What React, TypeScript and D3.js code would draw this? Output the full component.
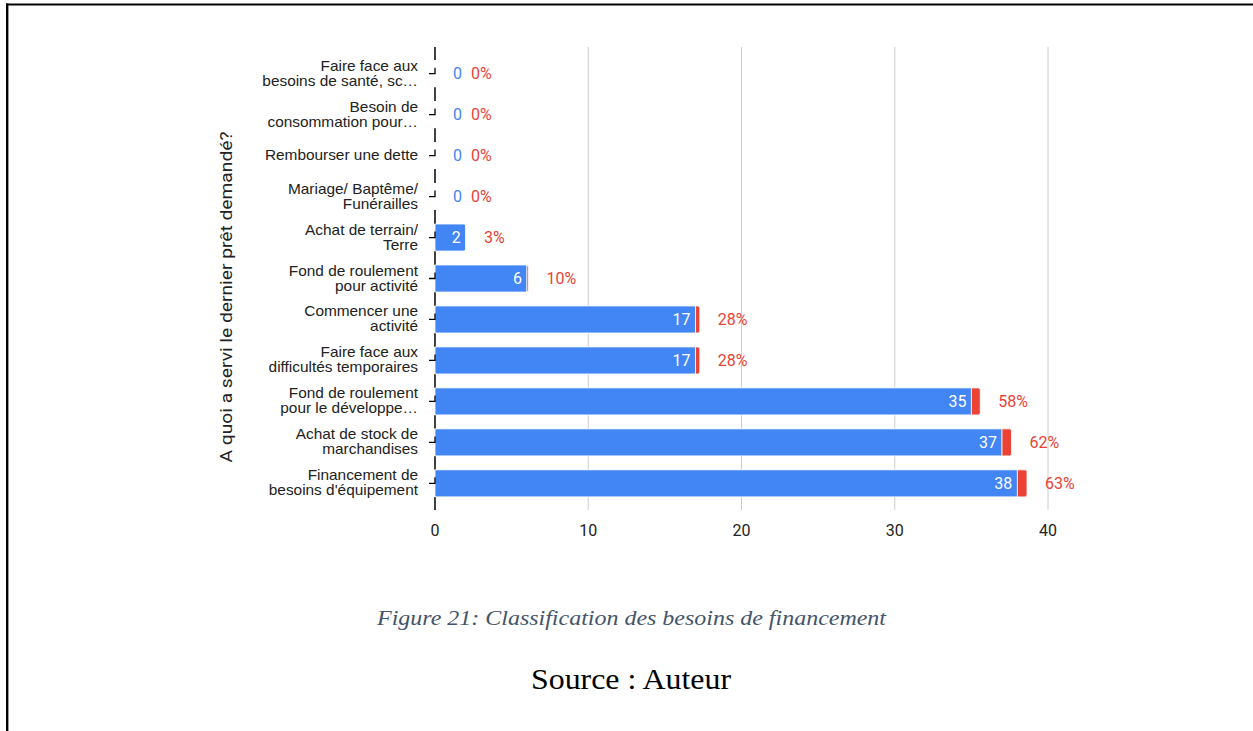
import React from "react";
import * as d3 from "d3";

const categories: string[][] = [
  ["Faire face aux", "besoins de santé, sc…"],
  ["Besoin de", "consommation pour…"],
  ["Rembourser une dette"],
  ["Mariage/ Baptême/", "Funérailles"],
  ["Achat de terrain/", "Terre"],
  ["Fond de roulement", "pour activité"],
  ["Commencer une", "activité"],
  ["Faire face aux", "difficultés temporaires"],
  ["Fond de roulement", "pour le développe…"],
  ["Achat de stock de", "marchandises"],
  ["Financement de", "besoins d'équipement"],
];
const counts: number[] = [0, 0, 0, 0, 2, 6, 17, 17, 35, 37, 38];
const percents: number[] = [0, 0, 0, 0, 3, 10, 28, 28, 58, 62, 63];
const xTicks: number[] = [0, 10, 20, 30, 40];
const yTitle = "A quoi a servi le dernier prêt demandé?";
const caption = "Figure 21: Classification des besoins de financement";
const source = "Source : Auteur";

const BLUE = "#4285F4";
const RED = "#EA4335";
const SANS = "Roboto, 'Liberation Sans', Arial, sans-serif";
const LABEL_FONT = "'Liberation Sans', Arial, sans-serif";
const SERIF = "'Liberation Serif', 'Times New Roman', serif";

export default function App() {
  const W = 1253;
  const H = 731;
  const x = d3.scaleLinear().domain([0, 40]).range([435, 1048]);
  const idx = categories.map((_, i) => String(i));
  const y = d3
    .scaleBand<string>()
    .domain(idx)
    .range([47, 510])
    .paddingInner(0.34)
    .paddingOuter(0.32);
  const bw = y.bandwidth();
  const x0 = x(0);

  const axisSegs: [number, number][] = [];
  let prev = 47;
  idx.forEach((k) => {
    const top = y(k)!;
    axisSegs.push([prev, top]);
    prev = top + bw;
  });
  axisSegs.push([prev, 510]);

  return (
    <svg
      width={W}
      height={H}
      style={{ position: "absolute", left: 0, top: 0, background: "#fff" }}
    >
      <line x1={6} x2={W} y1={4.5} y2={4.5} stroke="#000" strokeWidth={2.2} />
      <line x1={7.2} x2={7.2} y1={3.5} y2={H} stroke="#000" strokeWidth={2.4} />

      {xTicks
        .filter((t) => t > 0)
        .map((t) => (
          <line
            key={t}
            x1={x(t)}
            x2={x(t)}
            y1={47}
            y2={510}
            stroke="#cccccc"
            strokeWidth={1}
          />
        ))}

      {xTicks.map((t) => (
        <text
          key={t}
          x={x(t)}
          y={536}
          textAnchor="middle"
          fontFamily={SANS}
          fontSize={16}
          fill="#222"
        >
          {t}
        </text>
      ))}

      {axisSegs.map(([a, b], i) => (
        <line
          key={i}
          x1={x0}
          x2={x0}
          y1={a}
          y2={b}
          stroke="#000"
          strokeWidth={1.5}
        />
      ))}

      {idx.map((k, i) => {
        const top = y(k)!;
        const cy = top + bw / 2;
        const c = counts[i];
        const p = percents[i] / 100;
        const xb = x(c);
        const xr = x(c + p);
        return (
          <g key={k}>
            {c > 0 && (
              <rect
                x={x0}
                y={top}
                width={xb - x0}
                height={bw}
                fill={BLUE}
                stroke="#fff"
                strokeWidth={0.8}
              />
            )}
            {p > 0 && (
              <path
                d={`M${xb},${top} H${xr - 2} Q${xr},${top} ${xr},${top + 2} V${top + bw - 2} Q${xr},${top + bw} ${xr - 2},${top + bw} H${xb} Z`}
                fill={RED}
                stroke="#fff"
                strokeWidth={0.8}
              />
            )}
            <path
              d={`M${x0 - 6},${cy} H${x0} V${cy - 6}`}
              fill="none"
              stroke="#000"
              strokeWidth={1.3}
            />
            {c > 0 ? (
              <text
                x={xb - 5}
                y={cy + 5.5}
                textAnchor="end"
                fontFamily={SANS}
                fontSize={16}
                fill="#fff"
              >
                {c}
              </text>
            ) : (
              <text
                x={x0 + 18}
                y={cy + 5.5}
                fontFamily={SANS}
                fontSize={16}
                fill={BLUE}
              >
                {c}
              </text>
            )}
            <text
              x={c > 0 ? xr + 18 : x0 + 36}
              y={cy + 5.5}
              fontFamily={SANS}
              fontSize={16}
              fill={RED}
            >
              {percents[i]}%
            </text>
            {categories[i].map((line, j) => {
              const n = categories[i].length;
              const ly = cy + (j - (n - 1) / 2) * 15 + 4.5;
              return (
                <text
                  key={j}
                  transform={`translate(418,${ly}) scale(1.1,1)`}
                  textAnchor="end"
                  fontFamily={LABEL_FONT}
                  fontSize={14}
                  fill="#222"
                >
                  {line}
                </text>
              );
            })}
          </g>
        );
      })}

      <text
        transform={`translate(232,297) rotate(-90)`}
        textAnchor="middle"
        fontFamily={SANS}
        fontSize={16}
        textLength={331}
        lengthAdjust="spacingAndGlyphs"
        fill="#222"
      >
        {yTitle}
      </text>

      <text
        x={631.5}
        y={625}
        textAnchor="middle"
        fontFamily={SERIF}
        fontStyle="italic"
        fontSize={21}
        textLength={509}
        lengthAdjust="spacingAndGlyphs"
        fill="#44546A"
      >
        {caption}
      </text>
      <text
        x={631}
        y={689}
        textAnchor="middle"
        fontFamily={SERIF}
        fontSize={30}
        textLength={200}
        lengthAdjust="spacingAndGlyphs"
        fill="#000"
      >
        {source}
      </text>
    </svg>
  );
}
